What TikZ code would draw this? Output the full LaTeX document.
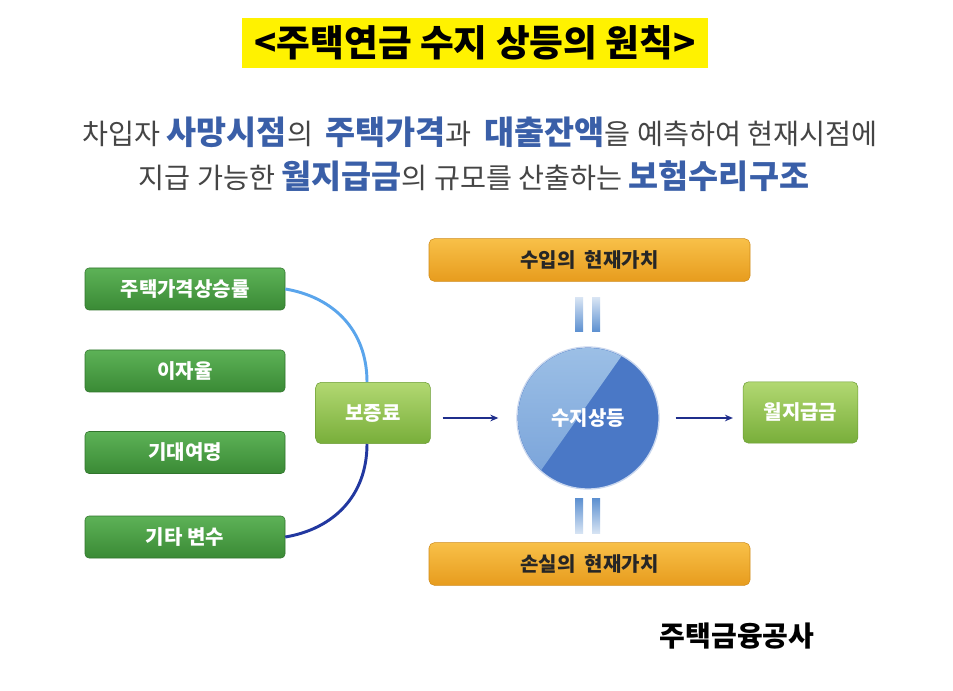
\documentclass[tikz,border=0pt]{standalone}
\usepackage{fontspec}
\setmainfont{Noto Sans CJK KR}
\usetikzlibrary{arrows.meta}
\definecolor{grnT}{HTML}{5DB257}
\definecolor{grnB}{HTML}{3A8A35}
\definecolor{lgrT}{HTML}{B2D872}
\definecolor{lgrB}{HTML}{78AE3A}
\definecolor{orT}{HTML}{F8C048}
\definecolor{orB}{HTML}{E79C1E}
\definecolor{blueTxt}{HTML}{3A5FA8}
\definecolor{grayTxt}{HTML}{454545}
\definecolor{navy}{HTML}{1F2E8C}
\definecolor{skyline}{HTML}{5AA5EC}
\definecolor{darkline}{HTML}{2238A0}
\definecolor{circD}{HTML}{4A78C6}
\definecolor{circLT}{HTML}{A8C9EA}
\definecolor{circLB}{HTML}{6F9BD6}
\definecolor{barC}{HTML}{5B8FD0}
\newcommand\bl[1]{{\color{blueTxt}\bfseries\fontsize{24.5pt}{28pt}\selectfont #1}}
\begin{document}
\begin{tikzpicture}[x=0.75pt,y=-0.75pt,
  boxtxt/.style={text=white,font=\bfseries\fontsize{15pt}{17pt}\selectfont,inner sep=0pt},
  gbox/.style={boxtxt,rounded corners=3pt,top color=grnT,bottom color=grnB,draw=grnB!85!black,line width=0.4pt,minimum width=150pt,minimum height=31.5pt},
  lbox/.style={boxtxt,rounded corners=4pt,top color=lgrT,bottom color=lgrB,draw=lgrB!90!black,line width=0.4pt,minimum width=86pt,minimum height=46pt},
  obox/.style={rounded corners=4pt,top color=orT,bottom color=orB,draw=orB!90!black,line width=0.4pt,minimum width=240.75pt,minimum height=32pt,inner sep=0pt,text=black!85,font=\bfseries\fontsize{15pt}{17pt}\selectfont},
  flow/.style={draw=navy,line width=1.5pt,-{Stealth[length=6pt,width=5pt]}},
]
\useasboundingbox (0,0) rectangle (953,691);
\fill[white] (0,0) rectangle (953,691);

% title
\node[fill=yellow,minimum width=349.5pt,minimum height=37.5pt,inner sep=0pt,font=\bfseries\fontsize{27.5pt}{30pt}\selectfont] (title) at (475,43) {<주택연금 수지 상등의 원칙>};

% subtitle
\node[text=grayTxt,font=\fontsize{21.2pt}{26pt}\selectfont,inner sep=0pt] (s1) at (480,132) {차입자 \bl{사망시점}의\ \ \bl{주택가격}과\ \ \bl{대출잔액}을 예측하여 현재시점에};
\node[text=grayTxt,font=\fontsize{21.2pt}{26pt}\selectfont,inner sep=0pt] (s2) at (474,176) {지급 가능한 \bl{월지급금}의 규모를 산출하는 \bl{보험수리구조}};

% left inputs
\node[gbox] (g1) at (185,289) {주택가격상승률};
\node[gbox] (g2) at (185,371) {이자율};
\node[gbox] (g3) at (185,452.5) {기대여명};
\node[gbox] (g4) at (185,537) {기타 변수};

\node[lbox] (bo) at (373,413) {보증료};
\node[lbox] (wo) at (800.5,412.5) {월지급금};

\coordinate (botop) at (367,382);
\coordinate (bobot) at (367,444);
\draw[skyline,line width=2.2pt] (g1.east) .. controls +(48,8) and +(0,-52) .. (botop);
\draw[darkline,line width=2.2pt] (bobot) .. controls +(0,52) and +(48,-8) .. (g4.east);

% top/bottom orange boxes
\node[obox] (inc) at (589.5,260) {수입의\ \ 현재가치};
\node[obox] (los) at (589.5,564) {손실의\ \ 현재가치};

% equal bars
\shade[top color=barC!25,bottom color=barC] (575,298) rectangle (583,332);
\shade[top color=barC!25,bottom color=barC] (592,298) rectangle (600,332);
\shade[top color=barC,bottom color=barC!25] (575,498) rectangle (583,533);
\shade[top color=barC,bottom color=barC!25] (592,498) rectangle (600,533);

% circle
\node[circle,minimum size=106.5pt,fill=circD,draw=white!70!circD,line width=1pt,inner sep=0pt] (c) at (588,418) {};
\begin{scope}
  \clip (c.center) circle[radius=52.5pt];
  \shade[top color=circLT,bottom color=circLB] (661,300) -- (506,520) -- (500,520) -- (500,300) -- cycle;
\end{scope}
\node[boxtxt] at (c.center) {수지상등};

% arrows
\draw[flow,shorten <=9pt,shorten >=13.5pt] (bo.east |- c.west) -- (c.west);
\draw[flow,shorten <=12pt,shorten >=7.5pt] (c.east) -- (wo.west |- c.east);

% source
\node[font=\bfseries\fontsize{21pt}{24pt}\selectfont,inner sep=0pt] (src) at (737,636) {주택금융공사};
\end{tikzpicture}
\end{document}
